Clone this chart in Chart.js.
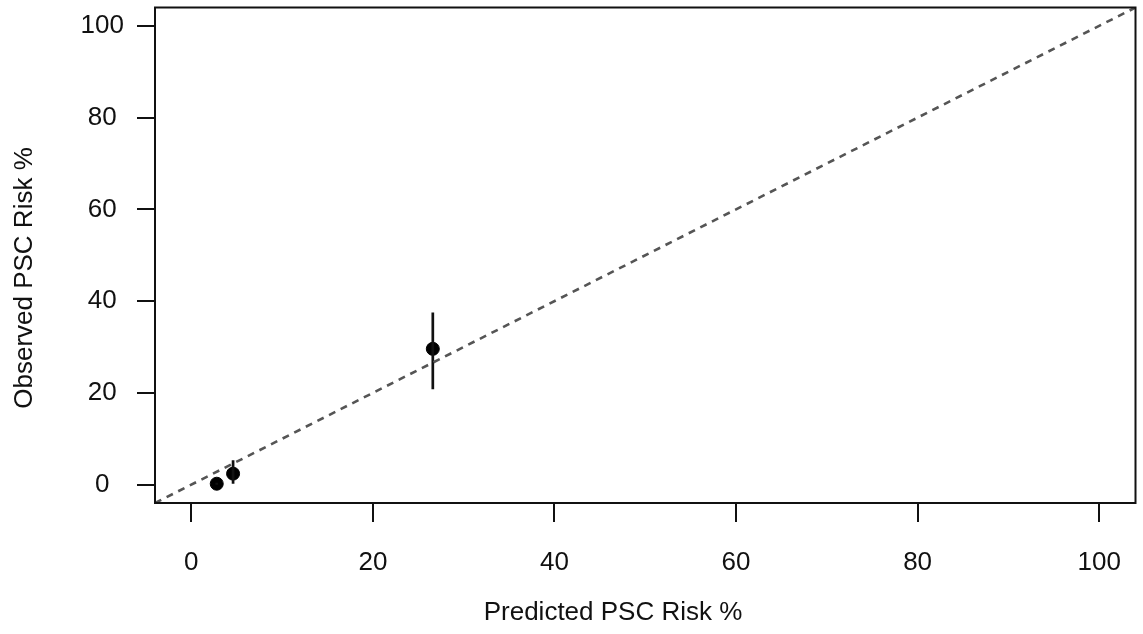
<!DOCTYPE html>
<html>
<head>
<meta charset="utf-8">
<script src="https://cdn.jsdelivr.net/npm/chart.js@4"></script>
<style>
  html, body { margin: 0; padding: 0; background: #fff; }
  #wrap { width: 1143px; height: 634px; }
</style>
</head>
<body>
<div id="wrap"><canvas id="ChartCalib"></canvas></div>
<script>
// calibration groups
var predicted = [2.8, 4.6, 26.6];
var observed = [0.2, 2.4, 29.6];
var lowerCI = [0.0, 0.2, 20.8];
var upperCI = [0.4, 5.3, 37.5];
var refLine = [-4, 104];
var tickValues = [0, 20, 40, 60, 80, 100];
var xTitle = 'Predicted PSC Risk %';
var yTitle = 'Observed PSC Risk %';

var fontFamily = '"Liberation Sans", Arial, sans-serif';

var datasets = [];

// y = x reference line
datasets.push({
  type: 'line',
  data: refLine.map(function (v) { return {x: v, y: v}; }),
  borderColor: '#555',
  borderWidth: 2.6,
  borderDash: [7, 6],
  pointRadius: 0,
  fill: false
});

// vertical error bars
for (var i = 0; i < predicted.length; i++) {
  datasets.push({
    type: 'line',
    data: [{x: predicted[i], y: lowerCI[i]}, {x: predicted[i], y: upperCI[i]}],
    borderColor: '#111',
    borderWidth: 2.7,
    pointRadius: 0,
    fill: false
  });
}

datasets.push({
  type: 'scatter',
  data: predicted.map(function (p, i) { return {x: p, y: observed[i]}; }),
  backgroundColor: '#000',
  borderColor: '#000',
  pointRadius: 6.5,
  pointHoverRadius: 6.5
});

// frame round the plot + the two axis titles (placed like the original, not centred)
var boxPlugin = {
  id: 'box',
  afterDraw: function (chart) {
    var a = chart.chartArea;
    var ctx = chart.ctx;
    ctx.save();
    ctx.strokeStyle = '#111';
    ctx.lineWidth = 2;
    ctx.strokeRect(a.left, a.top, a.right - a.left, a.bottom - a.top);

    ctx.fillStyle = '#111';
    ctx.font = '26px ' + fontFamily;
    ctx.textAlign = 'center';
    ctx.textBaseline = 'middle';
    ctx.fillText(xTitle, 613, 613);
    ctx.translate(25, 278);
    ctx.rotate(-Math.PI / 2);
    ctx.fillText(yTitle, 0, 0);
    ctx.restore();
  }
};

function fixedTicks(scale) {
  scale.ticks = tickValues.map(function (v) { return {value: v}; });
}

new Chart(document.getElementById('ChartCalib').getContext('2d'), {
  type: 'scatter',
  data: {datasets: datasets},
  plugins: [boxPlugin],
  options: {
    responsive: true,
    maintainAspectRatio: false,
    animation: false,
    layout: {padding: {top: 5, right: 6, left: 0, bottom: 0}},
    plugins: {legend: {display: false}, tooltip: {enabled: false}},
    scales: {
      x: {
        type: 'linear',
        min: -4,
        max: 104,
        afterBuildTicks: fixedTicks,
        afterFit: function (scale) {
          scale.height = 131;
          scale.paddingLeft = 0;
          scale.paddingRight = 0;
        },
        border: {display: false},
        grid: {drawOnChartArea: false, drawTicks: true, tickLength: 19, tickColor: '#111', lineWidth: 2},
        ticks: {color: '#111', padding: 25, maxRotation: 0, font: {family: fontFamily, size: 26}}
      },
      y: {
        type: 'linear',
        min: -4,
        max: 104,
        afterBuildTicks: fixedTicks,
        afterFit: function (scale) {
          scale.width = 155;
          scale.paddingTop = 0;
          scale.paddingBottom = 0;
        },
        border: {display: false},
        grid: {drawOnChartArea: false, drawTicks: true, tickLength: 18, tickColor: '#111', lineWidth: 2},
        ticks: {color: '#111', padding: 13, crossAlign: 'center', font: {family: fontFamily, size: 26}}
      }
    }
  }
});
</script>
</body>
</html>
